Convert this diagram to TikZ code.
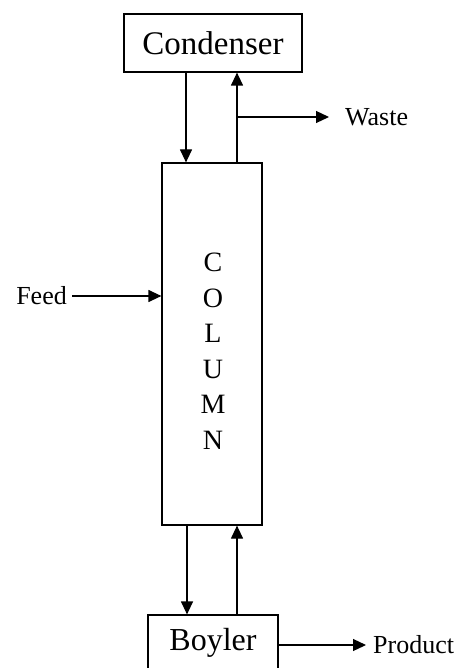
\documentclass[tikz,border=0pt]{standalone}
\usepackage{fontspec}
\setmainfont{Liberation Serif}
\usetikzlibrary{arrows.meta}
\begin{document}
\begin{tikzpicture}[x=1pt,y=-1pt,
  box/.style={draw,line width=1.2pt,inner sep=0pt},
  lbl/.style={inner sep=0pt,font=\fontsize{26}{30}\selectfont},
  arr/.style={line width=1.2pt,-{Triangle[length=13pt,width=12pt]}}]
\useasboundingbox (0,0) rectangle (460,668);
\clip (0,0) rectangle (460,668);
\node[box,minimum width=178pt,minimum height=58pt,font=\fontsize{33}{36}\selectfont] (cond) at (213,43) {Condenser};
\node[box,minimum width=100pt,minimum height=362pt] (col) at (212,344) {};
\node[align=center,inner sep=0pt,font=\fontsize{28}{35.5}\selectfont] (coltext) at (213,351) {C\\O\\L\\U\\M\\N};
\node[box,minimum width=130pt,minimum height=56pt,font=\fontsize{32}{36}\selectfont] (boy) at (213,643) {Boyler};
\node[lbl,anchor=west] (waste) at (345,117) {Waste};
\node[lbl,anchor=east] (feed) at (67,296) {Feed};
\node[lbl,anchor=west] (prod) at (373,645) {Product};
% top connectors
\draw[arr] ([xshift=-27pt]cond.south) -- ([xshift=-27pt]cond.south |- col.north);
\draw[arr] ([xshift=25pt]col.north) -- ([xshift=25pt]col.north |- cond.south);
\coordinate (wj) at ([xshift=25pt]col.north |- waste.west);
\draw[arr] (wj) -- ([xshift=-16pt]waste.west);
% feed
\draw[arr] ([xshift=5pt]feed.east) -- (col.west |- feed.east);
% bottom connectors
\draw[arr] ([xshift=-25pt]col.south) -- ([xshift=-25pt]col.south |- boy.north);
\draw[arr] ([xshift=24pt]boy.north) -- ([xshift=24pt]boy.north |- col.south);
\draw[arr] (boy.east |- prod.west) -- ([xshift=-7pt]prod.west);
\end{tikzpicture}
\end{document}
